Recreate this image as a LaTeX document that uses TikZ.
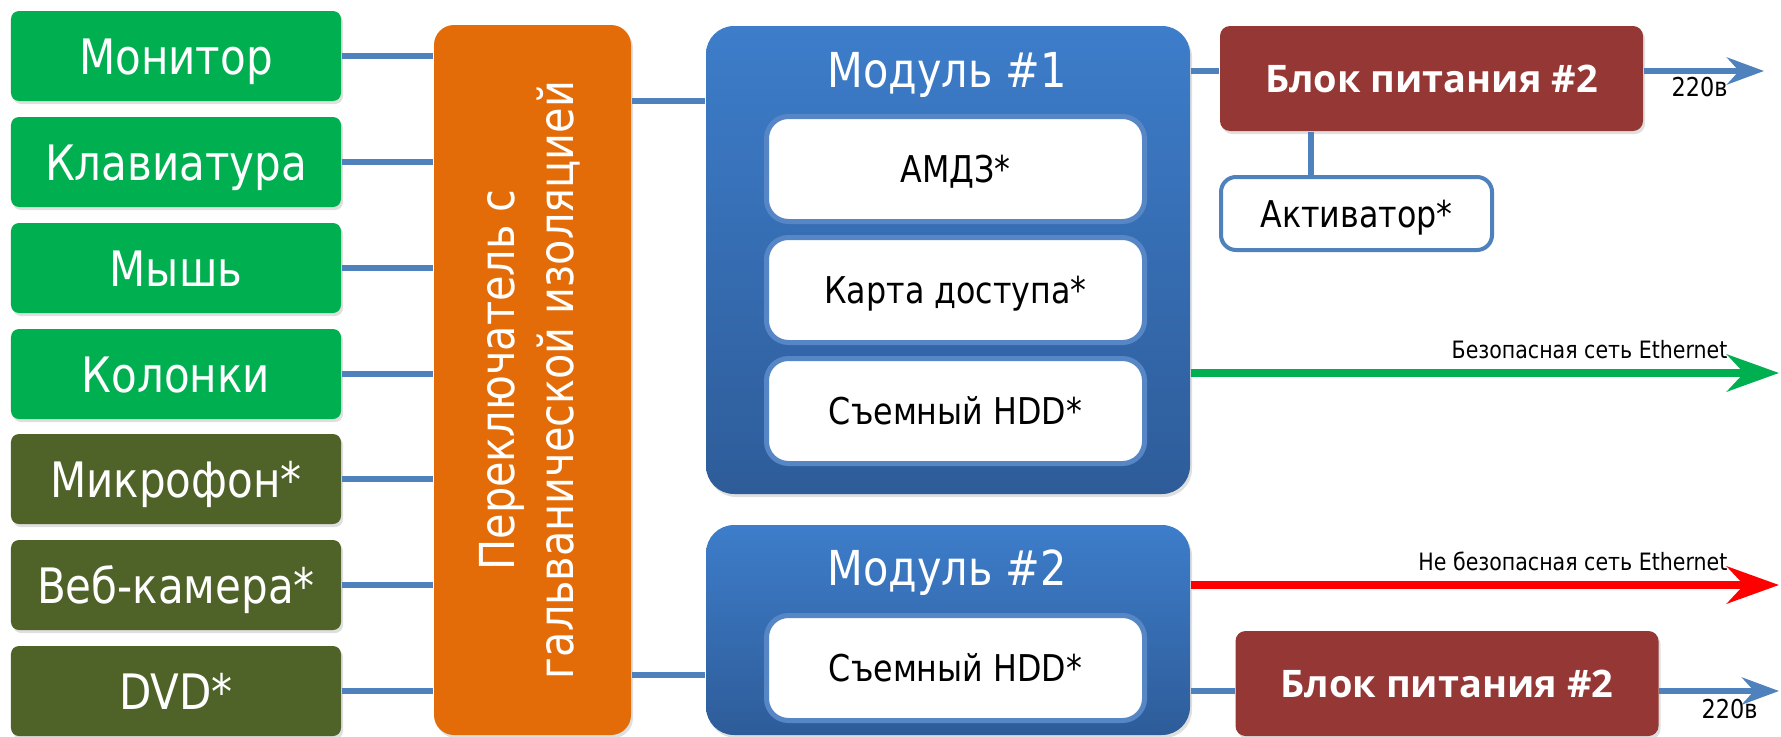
\documentclass[tikz,border=0pt]{standalone}
\usepackage{fontspec}
\setmainfont{DejaVu Sans}[FakeStretch=0.86]
\newfontfamily\psufont{Open Sans}
\usepackage{tikz}
\usetikzlibrary{arrows.meta,shadows}

\definecolor{devgreen}{HTML}{00B050}
\definecolor{devolive}{HTML}{4F6228}
\definecolor{sworange}{HTML}{E36C09}
\definecolor{modtop}{HTML}{3D7DCA}
\definecolor{modbot}{HTML}{2E5C99}
\definecolor{unitedge}{HTML}{5686C6}
\definecolor{linkblue}{HTML}{4F81BD}
\definecolor{psured}{HTML}{953735}
\definecolor{netred}{HTML}{FF0000}

\begin{document}
\begin{tikzpicture}[
        soft/.style={drop shadow={shadow xshift=0.02cm, shadow yshift=-0.03cm, opacity=0.25}},
        dev/.style={soft, fill=devgreen, rounded corners=0.08cm, minimum width=3.30cm,
            minimum height=0.90cm, inner sep=0pt, text=white,
            font=\fontsize{13.9}{16}\selectfont, text height=0.36cm, text depth=0pt},
        opt/.style={dev, fill=devolive},
        switchbox/.style={soft, fill=sworange, rounded corners=0.2cm, minimum width=1.97cm,
            minimum height=7.10cm, inner sep=0pt, text=white,
            font=\fontsize{13.7}{16.8}\selectfont},
        module/.style={soft, top color=modtop, bottom color=modbot, rounded corners=0.28cm,
            minimum width=4.84cm, inner sep=0pt},
        modtitle/.style={text=white, inner sep=0pt, font=\fontsize{13.7}{16}\selectfont},
        unit/.style={fill=white, draw=unitedge, line width=0.05cm, rounded corners=0.22cm,
            minimum width=3.78cm, minimum height=1.05cm, inner sep=0pt,
            font=\fontsize{10.5}{12}\selectfont, text height=0.27cm, text depth=0pt},
        psu/.style={soft, fill=psured, rounded corners=0.1cm, minimum width=4.23cm,
            minimum height=1.05cm, inner sep=0pt, text=white,
            font=\psufont\bfseries\fontsize{10.8}{13}\selectfont, text height=0.27cm, text depth=0pt},
        act/.style={fill=white, draw=linkblue, line width=0.04cm, rounded corners=0.15cm,
            minimum width=2.71cm, minimum height=0.73cm, inner sep=0pt,
            font=\fontsize{10.5}{12}\selectfont, text height=0.27cm, text depth=0pt},
        link/.style={draw=linkblue, line width=0.06cm},
        mains/.style={link, -{Stealth[length=0.37cm, width=0.27cm, inset=0.12cm]}},
        net/.style={line width=0.08cm, -{Stealth[length=0.52cm, width=0.37cm, inset=0.17cm]}},
        netlabel/.style={inner sep=0pt, font=\fontsize{6.8}{8}\selectfont},
        voltlabel/.style={inner sep=0pt, font=\fontsize{7.4}{9}\selectfont}
    ]
        \useasboundingbox (0, 0) rectangle (17.81, -7.36);

        \node[dev] (mon) at (1.76, -0.56) {Монитор};
        \node[dev] (kbd) at (1.76, -1.62) {Клавиатура};
        \node[dev] (mouse) at (1.76, -2.68) {Мышь};
        \node[dev] (spk) at (1.76, -3.74) {Колонки};
        \node[opt] (mic) at (1.76, -4.79) {Микрофон*};
        \node[opt] (cam) at (1.76, -5.85) {Веб-камера*};
        \node[opt] (dvd) at (1.76, -6.91) {DVD*};

        \node[switchbox] (sw) at (5.325, -3.80) {\rotatebox{90}{\begin{tabular}{@{}c@{}}Переключатель с\\гальванической изоляцией\end{tabular}}};

        \node[module, minimum height=4.68cm] (m1) at (9.48, -2.60) {};
        \node[modtitle, anchor=base] (m1t) at (9.47, -0.87) {Модуль \#1};
        \node[unit] (amdz) at (9.555, -1.69) {АМДЗ*};
        \node[unit] (card) at (9.555, -2.90) {Карта доступа*};
        \node[unit] (hdd1) at (9.555, -4.11) {Съемный HDD*};

        \node[module, minimum height=2.10cm] (m2) at (9.48, -6.30) {};
        \node[modtitle, anchor=base] (m2t) at (9.47, -5.85) {Модуль \#2};
        \node[unit] (hdd2) at (9.555, -6.68) {Съемный HDD*};

        \node[psu] (psuA) at (14.315, -0.785) {Блок питания \#2};
        \node[act] (act) at (13.565, -2.135) {Активатор*};
        \node[psu] (psuB) at (14.47, -6.835) {Блок питания \#2};

        \coordinate (mainsA) at (17.64, -0.71);
        \coordinate (mainsB) at (17.79, -6.91);
        \coordinate (netA) at (17.79, -3.73);
        \coordinate (netB) at (17.79, -5.85);

        \draw[link] (mon.east) -- (mon.east -| sw.west);
        \draw[link] (kbd.east) -- (kbd.east -| sw.west);
        \draw[link] (mouse.east) -- (mouse.east -| sw.west);
        \draw[link] (spk.east) -- (spk.east -| sw.west);
        \draw[link] (mic.east) -- (mic.east -| sw.west);
        \draw[link] (cam.east) -- (cam.east -| sw.west);
        \draw[link] (dvd.east) -- (dvd.east -| sw.west);

        \draw[link] ([yshift=1.59cm]m1.west -| sw.east) -- ([yshift=1.59cm]m1.west);
        \draw[link] ([yshift=-0.45cm]m2.west -| sw.east) -- ([yshift=-0.45cm]m2.west);

        \draw[link] (m1.east |- mainsA) -- (psuA.west |- mainsA);
        \draw[mains] (psuA.east |- mainsA) -- (mainsA);
        \draw[link] ([xshift=-0.455cm]act.north) -- ([xshift=-0.455cm]act.north |- psuA.south);

        \draw[link] (m2.east |- mainsB) -- (psuB.west |- mainsB);
        \draw[mains] (psuB.east |- mainsB) -- (mainsB);

        \draw[net, devgreen] (m1.east |- netA) -- (netA);
        \draw[net, netred] (m2.east |- netB) -- (netB);

        \node[netlabel, anchor=base east] (netAl) at (17.28, -3.58) {Безопасная сеть Ethernet};
        \node[netlabel, anchor=base east] (netBl) at (17.28, -5.70) {Не безопасная сеть Ethernet};
        \node[voltlabel, anchor=base west] (voltA) at (16.71, -0.97) {220в};
        \node[voltlabel, anchor=base west] (voltB) at (17.01, -7.18) {220в};
    \end{tikzpicture}
\end{document}
